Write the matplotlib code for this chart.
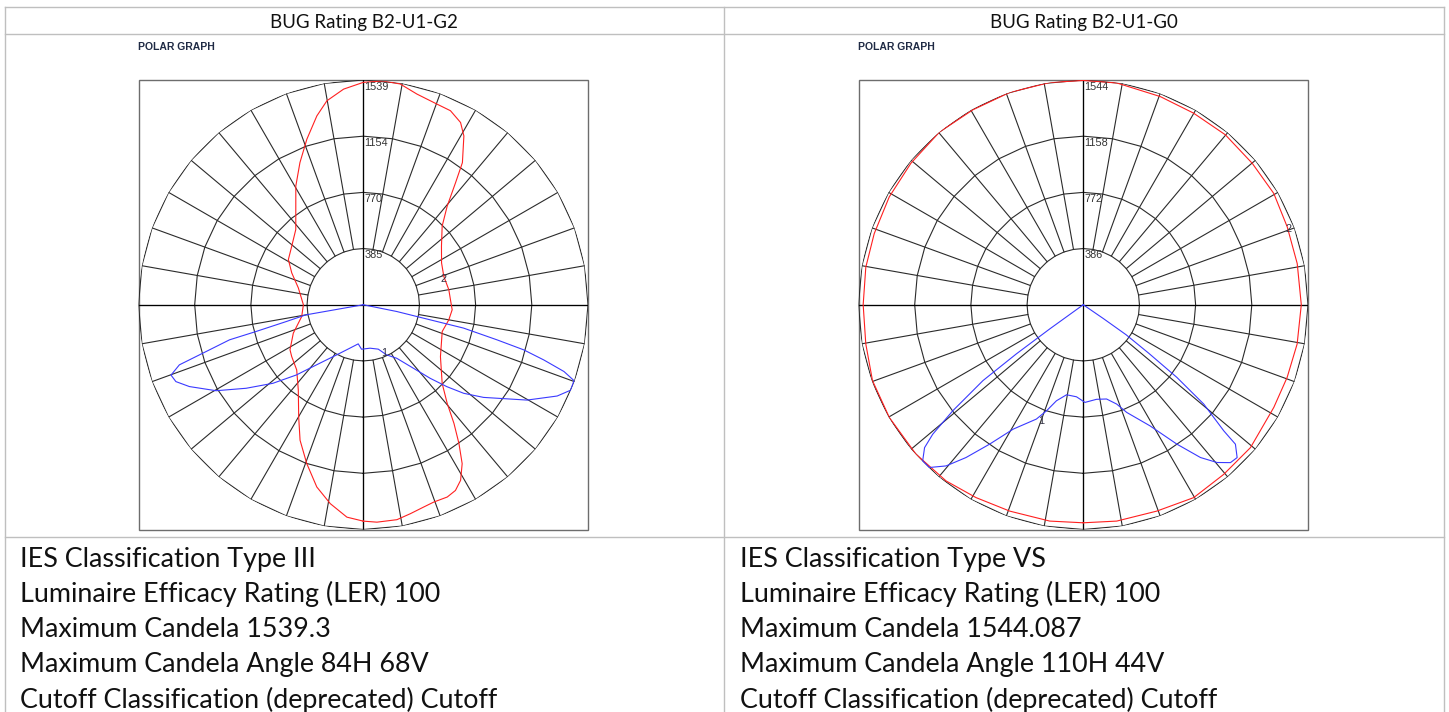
import numpy as np
import matplotlib.pyplot as plt
from matplotlib.patches import Rectangle

# ---- data ----
# angles in degrees from nadir (0 = down, 90 = right, 180 = up, negative = left side)
headers = ["BUG Rating B2-U1-G2", "BUG Rating B2-U1-G0"]
max_cd = [1539.3, 1544.087]
ring_labels = [["385", "770", "1154", "1539"], ["386", "772", "1158", "1544"]]

g2_red_deg = [0, 3.6, 8.9, 12.7, 16.6, 19.7, 23.6, 26.4, 29.0, 31.9, 34.6, 37.4, 40.4, 45.1,
              56.1, 71.3, 80.0, 86.8, 90, 100, 109.4, 118.1, 126.8, 134.9, 139.6, 142.9, 145.1,
              149.2, 151.9, 155.8, 159.8, 165.7, 170.5, 174.9, 180, 185.2, 190.1, 193.8, 198.8,
              204.0, 209.6, 221.9, 230.7, 238.9, 246.0, 255.5, 270, 280.8, 292.1, 301.6, 305.9,
              314.4, 322.7, 330.1, 335.0, 340.4, 345.7, 350.6, 355.6, 360]
g2_red_cd = [1482, 1492, 1490, 1467, 1446, 1435, 1437, 1420, 1375, 1282, 1154, 1023, 887, 763,
             637, 571, 595, 610, 603, 595, 585, 608, 669, 763, 887, 1048, 1187,
             1346, 1415, 1457, 1464, 1489, 1533, 1539, 1523, 1483, 1419, 1332, 1198,
             1066, 935, 692, 633, 599, 536, 459, 410, 429, 517, 589, 605,
             638, 734, 887, 1024, 1154, 1288, 1381, 1459, 1482]

g2_blue_deg = [-82, -80, -77.7, -76, -75.3, -73.2, -71.9, -69.9, -67.7, -64.8, -59.7, -54.5,
               -49, -43.6, -37.9, -28.1, -17.1, -7.3, -2.2, 8.8, 18.7, 25, 32, 38.3, 42.3,
               45.6, 48.6, 52.4, 59.8, 64.8, 67.6, 70.2, 71.6, 73, 74.3, 75.3, 76.9, 77.3,
               78.6, 81]
g2_blue_cd = [0, 400, 539, 756, 947, 1148, 1325, 1402, 1387, 1316, 1167, 985,
              820, 664, 522, 390, 311, 270, 305, 301, 321, 379, 432, 554, 681,
              802, 917, 1040, 1298, 1468, 1536, 1534, 1449, 1293, 1142, 947, 705, 470,
              234, 0]

g0_red_deg = [0, 8.8, 19.6, 29.8, 39.6, 49.5, 61.7, 70.4, 79.6, 90, 100.9, 110.9, 120.3, 129.9,
              140.1, 150.1, 159.7, 171.4, 180, 188.5, 199.0, 209.5, 219.7, 230.6, 240.9, 251.2,
              260.2, 270, 280.2, 289.8, 300.2, 311.8, 322.1, 330.9, 340.4, 351.2, 360]
g0_red_cd = [1498, 1504, 1505, 1527, 1513, 1511, 1487, 1487, 1494, 1498, 1497, 1500, 1516, 1514,
             1522, 1519, 1525, 1541, 1541, 1544, 1544, 1539, 1544, 1532, 1525, 1517,
             1516, 1512, 1518, 1539, 1541, 1541, 1534, 1516, 1505, 1504, 1498]

g0_blue_deg = [-56, -54.2, -53.7, -52.9, -50.9, -49.3, -48.0, -45.8, -43.4, -40.4, -37.5, -33.9,
               -29.4, -22.3, -19.1, -15.6, -10.5, -4.2, 1.0, 8.0, 13.9, 18.6, 22.0, 28.9, 33.9,
               37.5, 40.3, 43.0, 45.2, 47.5, 48.1, 50.5, 52.2, 53.5, 55, 55.5, 57]
g0_blue_cd = [0, 283, 571, 864, 1155, 1364, 1467, 1539, 1539, 1454, 1323, 1154,
              981, 849, 771, 685, 629, 634, 671, 656, 667, 720, 798, 951, 1154,
              1323, 1421, 1483, 1490, 1418, 1297, 1073, 813, 558, 359, 168, 0]

# curve labels "2" (red) and "1" (blue): (angle, candela)
red_tag = [(107.7, 579), (110.2, 1500)]
blue_tag = [(23.2, 361), (-19.8, 848)]

info = [
    ["IES Classification Type III",
     "Luminaire Efficacy Rating (LER) 100",
     "Maximum Candela 1539.3",
     "Maximum Candela Angle 84H 68V",
     "Cutoff Classification (deprecated) Cutoff"],
    ["IES Classification Type VS",
     "Luminaire Efficacy Rating (LER) 100",
     "Maximum Candela 1544.087",
     "Maximum Candela Angle 110H 44V",
     "Cutoff Classification (deprecated) Cutoff"],
]

curves = [
    (g2_red_deg, g2_red_cd, g2_blue_deg, g2_blue_cd),
    (g0_red_deg, g0_red_cd, g0_blue_deg, g0_blue_cd),
]

W, H = 1449, 712
fig = plt.figure(figsize=(W / 100, H / 100), dpi=100)

# page layer in pixel coordinates: table borders and text
bg = fig.add_axes([0, 0, 1, 1])
bg.set_xlim(0, W)
bg.set_ylim(H, 0)
bg.axis("off")

border = "#bfbfbf"
for y in (7, 33.5, 537):
    bg.plot([4.5, 1444], [y, y], color=border, lw=1.0)
for x in (4.5, 724, 1444):
    bg.plot([x, x], [7, H], color=border, lw=1.0)

cell_x = [4.5, 724]
cell_w = 719.5
box_left = [138.5, 858.5]
box_top = 80
box = 449.5

for i in range(2):
    bg.text(cell_x[i] + cell_w / 2, 28, headers[i], ha="center", va="baseline",
            fontsize=13.5, family="Lato", color="#111111")
    bg.text(box_left[i], 47, "POLAR GRAPH", ha="left", va="center", fontsize=7.5,
            family="Liberation Sans", weight="bold", color="#1f2a44")
    bg.add_patch(Rectangle((box_left[i], box_top), box, box, fill=False,
                           edgecolor="#6d6d6d", lw=1.0))
    for j, line in enumerate(info[i]):
        bg.text(cell_x[i] + 15.5, 566.5 + 35.3 * j, line, ha="left", va="baseline",
                fontsize=19.4, family="Lato", color="#111111")

# polar graphs
for i in range(2):
    ax = fig.add_axes([box_left[i] / W, 1 - (box_top + box) / H, box / W, box / H],
                      projection="polar")
    ax.set_theta_zero_location("S")
    ax.set_theta_direction(1)
    rmax = max_cd[i]
    ax.set_ylim(0, rmax)
    ax.set_xticks([])
    ax.set_yticks([])
    ax.grid(False)
    ax.spines["polar"].set_visible(False)
    ax.patch.set_alpha(0)

    rings = [rmax * k / 4 for k in range(1, 5)]
    poly = np.radians(np.arange(0, 361, 10))
    for r in rings:
        ax.plot(poly, np.full_like(poly, r), color="#2b2b2b", lw=0.8)
    for a in poly[:-1]:
        ax.plot([a, a], [rings[0], rings[-1]], color="#2b2b2b", lw=0.8)
    ax.plot([0, np.pi], [rmax, rmax], color="black", lw=0.9)
    ax.plot([np.pi / 2, 3 * np.pi / 2], [rmax, rmax], color="black", lw=0.9)

    for r, lab in zip(rings, ring_labels[i]):
        ax.annotate(lab, xy=(np.pi, r), xytext=(1.0, -1.3), textcoords="offset points",
                    ha="left", va="top", fontsize=7.8, family="Liberation Sans",
                    color="#333333")

    rd, rc, bd, bc = curves[i]
    ax.plot(np.radians(rd), rc, color="#ff2020", lw=0.8)
    ax.plot(np.radians(bd), bc, color="#3a3aff", lw=0.8)

    ta, tr = red_tag[i]
    ax.text(np.radians(ta), tr, "2", ha="center", va="center", fontsize=7.8,
            family="Liberation Sans", color="#334")
    ta, tr = blue_tag[i]
    ax.text(np.radians(ta), tr, "1", ha="center", va="center", fontsize=7.8,
            family="Liberation Sans", color="#334")

fig.savefig("out.png", dpi=100)
